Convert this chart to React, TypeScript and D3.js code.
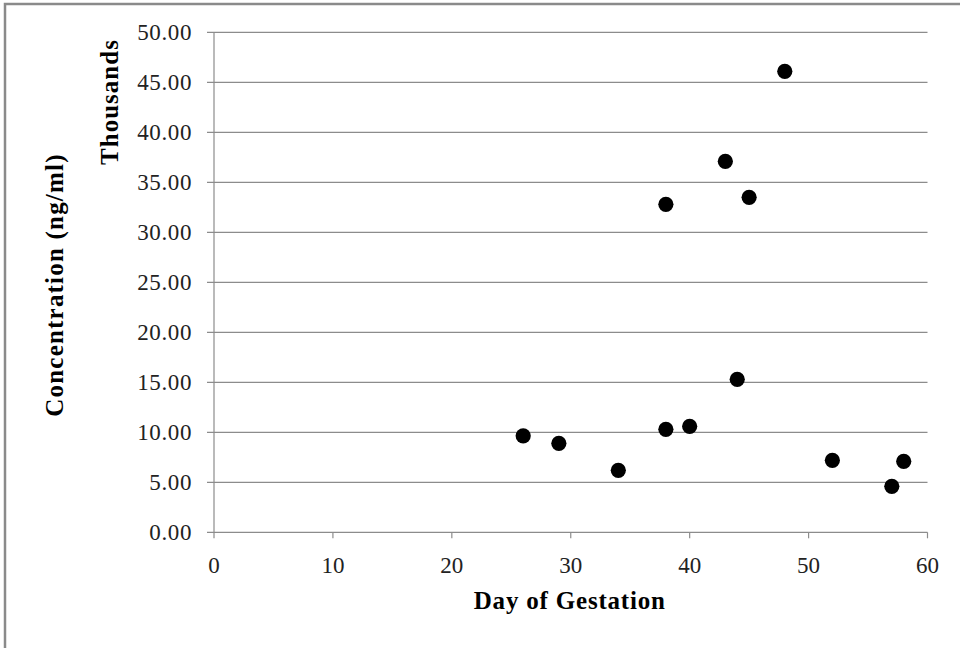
import React from "react";
import * as d3 from "d3";

const days = [26, 29, 34, 38, 40, 44, 38, 43, 45, 48, 52, 57, 58];
const concentrations = [9.65, 8.9, 6.2, 10.3, 10.6, 15.3, 32.8, 37.1, 33.5, 46.1, 7.2, 4.6, 7.1];
const xTicks = [0, 10, 20, 30, 40, 50, 60];
const yTicks = [0, 5, 10, 15, 20, 25, 30, 35, 40, 45, 50];
const xTitle = "Day of Gestation";
const yTitle = "Concentration (ng/ml)";
const yUnit = "Thousands";

const W = 960;
const H = 648;
const left = 214;
const right = 927.5;
const top = 32.3;
const bottom = 532.3;
const grid = "#8c8c8c";
const font = "'Liberation Serif', 'Times New Roman', serif";

export default function App() {
  const x = d3.scaleLinear().domain([0, 60]).range([left, right]);
  const y = d3.scaleLinear().domain([0, 50]).range([bottom, top]);
  const pts = days.map((d, i) => ({ d, v: concentrations[i] }));
  return (
    <svg
      width={W}
      height={H}
      style={{ position: "absolute", left: 0, top: 0, background: "#fff" }}
    >
      <rect x={0} y={0} width={W} height={H} fill="#fff" />
      <rect x={5} y={4} width={1200} height={900} fill="none" stroke="#8a8a8a" strokeWidth={2.5} />
      {yTicks.map((t) => (
        <g key={"y" + t}>
          <line x1={left - 7} x2={right} y1={y(t)} y2={y(t)} stroke={grid} strokeWidth={1.2} />
          <text
            x={192}
            y={y(t) + 8}
            textAnchor="end"
            fontFamily={font}
            fontSize={23}
            letterSpacing={0.6}
            fill="#222"
          >
            {t.toFixed(2)}
          </text>
        </g>
      ))}
      <line x1={left} x2={left} y1={top} y2={bottom} stroke={grid} strokeWidth={1.2} />
      {xTicks.map((t) => (
        <g key={"x" + t}>
          <line x1={x(t)} x2={x(t)} y1={bottom} y2={bottom + 6} stroke={grid} strokeWidth={1.2} />
          <text
            x={x(t)}
            y={573}
            textAnchor="middle"
            fontFamily={font}
            fontSize={23}
            fill="#222"
          >
            {t}
          </text>
        </g>
      ))}
      {pts.map((p, i) => (
        <circle key={i} cx={x(p.d)} cy={y(p.v)} r={7.6} fill="#000" />
      ))}
      <text
        x={(left + right) / 2 - 1}
        y={609}
        textAnchor="middle"
        fontFamily={font}
        fontSize={25}
        fontWeight="bold"
        letterSpacing={0.8}
        fill="#000"
      >
        {xTitle}
      </text>
      <text
        transform={`translate(63,285) rotate(-90)`}
        textAnchor="middle"
        fontFamily={font}
        fontSize={25}
        fontWeight="bold"
        letterSpacing={1.2}
        fill="#000"
      >
        {yTitle}
      </text>
      <text
        transform={`translate(118,102) rotate(-90)`}
        textAnchor="middle"
        fontFamily={font}
        fontSize={25}
        fontWeight="bold"
        letterSpacing={1}
        fill="#000"
      >
        {yUnit}
      </text>
    </svg>
  );
}
